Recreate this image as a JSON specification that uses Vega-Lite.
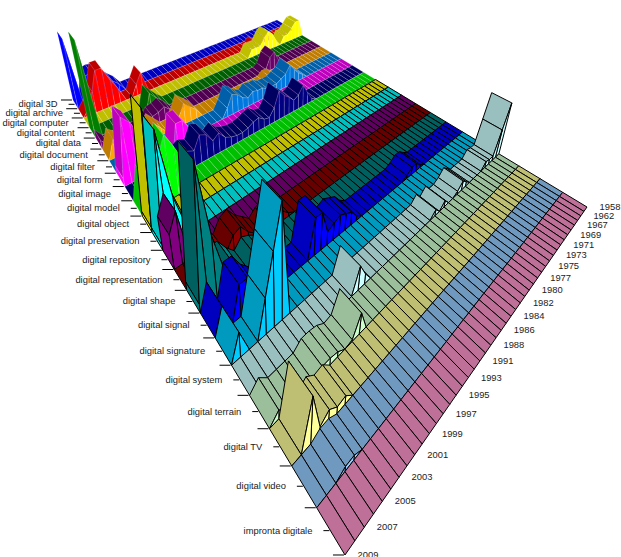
{"$schema":"https://vega.github.io/schema/vega-lite/v6.json","width":621,"height":557,"padding":0,"autosize":{"type":"none"},"background":"white","config":{"view":{"stroke":null}},
"datasets":{"raised":[
{"id":37,"v":6},{"id":38,"v":10},{"id":39,"v":15},{"id":40,"v":20},{"id":41,"v":21},{"id":42,"v":20},{"id":44,"v":48},
{"id":110,"v":3},{"id":134,"v":15},{"id":135,"v":8},{"id":138,"v":10},{"id":139,"v":18},{"id":140,"v":28},{"id":141,"v":28},{"id":142,"v":15},{"id":143,"v":5},
{"id":201,"v":14},{"id":202,"v":14},{"id":203,"v":10},{"id":204,"v":6},{"id":205,"v":6},{"id":207,"v":5},{"id":208,"v":12},{"id":209,"v":15},{"id":210,"v":12},{"id":211,"v":6},{"id":212,"v":6},{"id":213,"v":6},
{"id":333,"v":4},{"id":334,"v":9},{"id":335,"v":14},{"id":344,"v":62},
{"id":411,"v":5},{"id":412,"v":13},{"id":413,"v":10},{"id":414,"v":2},{"id":433,"v":5},{"id":434,"v":9},{"id":435,"v":7},{"id":436,"v":6},{"id":444,"v":6},
{"id":514,"v":3},{"id":515,"v":3},{"id":530,"v":6},{"id":531,"v":10},{"id":532,"v":14},{"id":533,"v":6},{"id":536,"v":5},{"id":537,"v":10},{"id":538,"v":6},{"id":542,"v":8},{"id":543,"v":12},
{"id":610,"v":3},{"id":611,"v":6},{"id":612,"v":10},{"id":613,"v":15},{"id":614,"v":10},{"id":615,"v":8},{"id":616,"v":6},{"id":617,"v":6},{"id":618,"v":6},{"id":619,"v":8},{"id":620,"v":8},{"id":621,"v":9},{"id":622,"v":6},{"id":623,"v":8},{"id":624,"v":12},{"id":625,"v":14},{"id":626,"v":6},
{"id":717,"v":5},{"id":734,"v":15},{"id":735,"v":22},{"id":736,"v":22},{"id":740,"v":5},{"id":741,"v":25},{"id":742,"v":35},{"id":743,"v":40},{"id":744,"v":5},
{"id":813,"v":2},{"id":814,"v":8},{"id":815,"v":15},{"id":816,"v":10},{"id":817,"v":8},{"id":818,"v":12},{"id":819,"v":15},{"id":820,"v":20},{"id":821,"v":10},{"id":822,"v":5},{"id":823,"v":6},{"id":824,"v":9},{"id":825,"v":8},{"id":826,"v":6},{"id":827,"v":5},{"id":828,"v":5},{"id":829,"v":6},{"id":830,"v":8},{"id":831,"v":13},{"id":832,"v":10},{"id":833,"v":16},{"id":834,"v":18},{"id":835,"v":10},{"id":836,"v":12},{"id":837,"v":10},{"id":838,"v":8},{"id":839,"v":5},
{"id":937,"v":10},{"id":938,"v":20},{"id":939,"v":30},{"id":940,"v":38},{"id":941,"v":28},{"id":942,"v":38},{"id":943,"v":20},
{"id":1041,"v":15},{"id":1042,"v":35},{"id":1043,"v":65},{"id":1044,"v":3},
{"id":1141,"v":8},{"id":1142,"v":25},{"id":1143,"v":62},{"id":1144,"v":3},
{"id":1243,"v":30},{"id":1244,"v":20},
{"id":1330,"v":2},{"id":1331,"v":6},{"id":1332,"v":6},{"id":1333,"v":4},{"id":1335,"v":4},{"id":1336,"v":8},{"id":1337,"v":14},{"id":1338,"v":12},{"id":1339,"v":5},{"id":1340,"v":12},{"id":1341,"v":18},
{"id":1435,"v":3},{"id":1436,"v":6},{"id":1437,"v":8},{"id":1438,"v":3},{"id":1439,"v":8},{"id":1440,"v":15},{"id":1441,"v":15},{"id":1442,"v":35},{"id":1443,"v":72},{"id":1444,"v":5},
{"id":1511,"v":2},{"id":1512,"v":5},{"id":1513,"v":5},{"id":1514,"v":2},{"id":1524,"v":3},{"id":1525,"v":8},{"id":1526,"v":10},{"id":1527,"v":12},{"id":1528,"v":10},{"id":1529,"v":8},{"id":1530,"v":22},{"id":1531,"v":22},{"id":1538,"v":5},{"id":1539,"v":10},{"id":1540,"v":18},{"id":1541,"v":18},{"id":1543,"v":14},
{"id":1638,"v":60},{"id":1639,"v":40},{"id":1640,"v":20},{"id":1643,"v":14},
{"id":1700,"v":33},{"id":1701,"v":18},{"id":1702,"v":3},{"id":1703,"v":3},{"id":1704,"v":4},{"id":1709,"v":3},{"id":1710,"v":6},{"id":1711,"v":2},{"id":1714,"v":4},{"id":1716,"v":4},{"id":1729,"v":6},{"id":1730,"v":14},
{"id":1833,"v":12},{"id":1834,"v":1},{"id":1836,"v":3},{"id":1837,"v":4},{"id":1838,"v":4},{"id":1843,"v":5},
{"id":1938,"v":5},{"id":1939,"v":4},{"id":1940,"v":8},{"id":1941,"v":4},{"id":1942,"v":26},
{"id":2040,"v":3},{"id":2041,"v":3}
]},
"layer":[
{"data":{"values":[{"t":0},{"t":1},{"t":2},{"t":3},{"t":4},{"t":5},{"t":6},{"t":7},{"t":8},{"t":9},{"t":10},{"t":11},{"t":12},{"t":13},{"t":14},{"t":15},{"t":16},{"t":17},{"t":18},{"t":19},{"t":20},{"t":21}]},
"transform":[
{"calculate":"[0,1,2,3,4,5,6,7,8,9,10,11,12,13,14,15,16,17,18,19,20,21,22,23,24,25,26,27,28,29,30,31,32,33,34,35,36,37,38,39,40,41,42,43,44]","as":"j"},
{"flatten":["j"]},
{"calculate":"datum.t*100+datum.j","as":"id"},
{"lookup":"id","from":{"data":{"name":"raised"},"key":"id","fields":["v"]},"default":0},
{"calculate":"+datum.v","as":"v"},
{"window":[{"op":"lead","field":"v","as":"w0"}],"sort":[{"field":"j"}],"groupby":["t"]},
{"calculate":"datum.j<44?datum.w0:0","as":"w"},
{"calculate":"[0,1,2]","as":"f"},
{"flatten":["f"]},
{"filter":"(datum.f==0&&datum.j<44)||(datum.f==1&&datum.j<44&&datum.t<21&&(datum.v>0||datum.w>0))||(datum.f==2&&datum.j==44&&datum.v>0)"},
{"calculate":"datum.id*10+datum.f","as":"cid"},
{"calculate":"datum.t+((datum.f>0||datum.w>datum.v+6)?'b':'m')","as":"key"},
{"calculate":"[0,1,2,3,4]","as":"c"},
{"flatten":["c"]},
{"calculate":"datum.f==1?(datum.t+1)/22:(datum.t+((datum.c==1||datum.c==2)?1:0))/22","as":"uu"},
{"calculate":"datum.f==2?1:datum.f==1?(datum.j+((datum.c==1||datum.c==2)?1:0))/44:(datum.j+((datum.c==2||datum.c==3)?1:0))/44","as":"tt"},
{"calculate":"(datum.f==2?((datum.c==2||datum.c==3)?0:datum.v):datum.f==1?(datum.c==1?datum.w:(datum.c==2||datum.c==3)?0:datum.v):((datum.c==2||datum.c==3)?datum.w:datum.v))*0.0011","as":"hh"},
{"calculate":"1-0.44044*datum.uu-0.25215*datum.tt-datum.hh","as":"wq"},
{"calculate":"(51.46*datum.uu-222.41*datum.tt+277-datum.hh*283)/datum.wq","as":"X"},
{"calculate":"(95.83*datum.uu+54.78*datum.tt+20-datum.hh*1000)/datum.wq","as":"Y"}
],
"encoding":{
"x":{"field":"X","type":"quantitative","scale":{"domain":[0,621],"nice":false,"zero":false},"axis":null},
"y":{"field":"Y","type":"quantitative","scale":{"domain":[557,0],"nice":false,"zero":false},"axis":null},
"order":{"field":"c","type":"ordinal"},
"detail":{"field":"cid","type":"nominal"},
"fill":{"field":"key","type":"nominal","legend":null,"scale":{"domain":["0m","0b","1m","1b","2m","2b","3m","3b","4m","4b","5m","5b","6m","6b","7m","7b","8m","8b","9m","9b","10m","10b","11m","11b","12m","12b","13m","13b","14m","14b","15m","15b","16m","16b","17m","17b","18m","18b","19m","19b","20m","20b","21m","21b"],"range":["#0000BF","#0000FF","#BF0000","#FF0000","#BFBF00","#FFFF00","#005F00","#007F00","#500050","#6B006B","#BF7C00","#FFA500","#005FA8","#0077DD","#BF00BF","#FF00FF","#000060","#000080","#00BF00","#00FF00","#BFBF00","#FFFF00","#00BFBF","#00FFFF","#600060","#800080","#680000","#8B0000","#005F5F","#008080","#0000BF","#0000FF","#009ABF","#00CCFF","#9ABFBF","#CCFFFF","#9ABF9A","#CCFFCC","#BFBF73","#FFFF99","#6F99BF","#94CCFF","#BF7099","#FF99CC"]}}
},
"layer":[
{"transform":[{"filter":"datum.t<10"}],"mark":{"type":"line","stroke":"#ffffff","strokeWidth":0.5,"strokeOpacity":0.3,"fillOpacity":1,"interpolate":"linear"}},
{"transform":[{"filter":"datum.t>=10"}],"mark":{"type":"line","stroke":"#000000","strokeWidth":1,"fillOpacity":1,"interpolate":"linear"}}
]},
{"data":{"values":[{"k":0},{"k":1},{"k":2},{"k":3},{"k":4},{"k":5},{"k":6},{"k":7},{"k":8},{"k":9},{"k":10},{"k":11},{"k":12},{"k":13},{"k":14},{"k":15},{"k":16},{"k":17},{"k":18},{"k":19},{"k":20},{"k":21},{"k":22},{"k":23},{"k":24},{"k":25},{"k":26},{"k":27},{"k":28},{"k":29},{"k":30},{"k":31},{"k":32},{"k":33},{"k":34},{"k":35},{"k":36},{"k":37},{"k":38},{"k":39},{"k":40},{"k":41},{"k":42},{"k":43},{"k":44}]},
"transform":[
{"calculate":"datum.k/44","as":"uu"},
{"calculate":"0.74785-0.44044*datum.uu","as":"wq"},
{"calculate":"(51.46*datum.uu+54.59)/datum.wq-1","as":"X"},
{"calculate":"datum.X-(datum.k%2==0?11:6)","as":"X0"},
{"calculate":"(95.83*datum.uu+74.78)/datum.wq","as":"Y"}
],
"mark":{"type":"rule","stroke":"#000000","strokeWidth":1},
"encoding":{
"x":{"field":"X0","type":"quantitative","scale":{"domain":[0,621],"nice":false,"zero":false},"axis":null},
"x2":{"field":"X"},
"y":{"field":"Y","type":"quantitative","scale":{"domain":[557,0],"nice":false,"zero":false},"axis":null}
}},
{"data":{"values":[{"i":0,"term":"digital 3D"},{"i":1,"term":"digital archive"},{"i":2,"term":"digital computer"},{"i":3,"term":"digital content"},{"i":4,"term":"digital data"},{"i":5,"term":"digital document"},{"i":6,"term":"digital filter"},{"i":7,"term":"digital form"},{"i":8,"term":"digital image"},{"i":9,"term":"digital model"},{"i":10,"term":"digital object"},{"i":11,"term":"digital preservation"},{"i":12,"term":"digital repository"},{"i":13,"term":"digital representation"},{"i":14,"term":"digital shape"},{"i":15,"term":"digital signal"},{"i":16,"term":"digital signature"},{"i":17,"term":"digital system"},{"i":18,"term":"digital terrain"},{"i":19,"term":"digital TV"},{"i":20,"term":"digital video"},{"i":21,"term":"impronta digitale"}]},
"transform":[
{"calculate":"(datum.i+0.5)/22","as":"uu"},
{"calculate":"0.74785-0.44044*datum.uu","as":"wq"},
{"calculate":"(51.46*datum.uu+54.59)/datum.wq-18","as":"X"},
{"calculate":"(95.83*datum.uu+74.78)/datum.wq","as":"Y"}
],
"mark":{"type":"text","align":"right","baseline":"middle","font":"Liberation Sans","fontSize":9.4,"fill":"#222222"},
"encoding":{
"x":{"field":"X","type":"quantitative","scale":{"domain":[0,621],"nice":false,"zero":false},"axis":null},
"y":{"field":"Y","type":"quantitative","scale":{"domain":[557,0],"nice":false,"zero":false},"axis":null},
"text":{"field":"term"}
}},
{"data":{"values":[{"n":0,"year":"1958"},{"n":2,"year":"1962"},{"n":4,"year":"1967"},{"n":6,"year":"1969"},{"n":8,"year":"1971"},{"n":10,"year":"1973"},{"n":12,"year":"1975"},{"n":14,"year":"1977"},{"n":16,"year":"1980"},{"n":18,"year":"1982"},{"n":20,"year":"1984"},{"n":22,"year":"1986"},{"n":24,"year":"1988"},{"n":26,"year":"1991"},{"n":28,"year":"1993"},{"n":30,"year":"1995"},{"n":32,"year":"1997"},{"n":34,"year":"1999"},{"n":36,"year":"2001"},{"n":38,"year":"2003"},{"n":40,"year":"2005"},{"n":42,"year":"2007"},{"n":44,"year":"2009"}]},
"transform":[
{"calculate":"datum.n/44","as":"tt"},
{"calculate":"0.55956-0.25215*datum.tt","as":"wq"},
{"calculate":"(328.46-222.41*datum.tt)/datum.wq+23","as":"X"},
{"calculate":"(115.83+54.78*datum.tt)/datum.wq","as":"Y"}
],
"mark":{"type":"text","align":"center","baseline":"middle","font":"Liberation Sans","fontSize":9.4,"fill":"#222222"},
"encoding":{
"x":{"field":"X","type":"quantitative","scale":{"domain":[0,621],"nice":false,"zero":false},"axis":null},
"y":{"field":"Y","type":"quantitative","scale":{"domain":[557,0],"nice":false,"zero":false},"axis":null},
"text":{"field":"year"}
}}
]}
